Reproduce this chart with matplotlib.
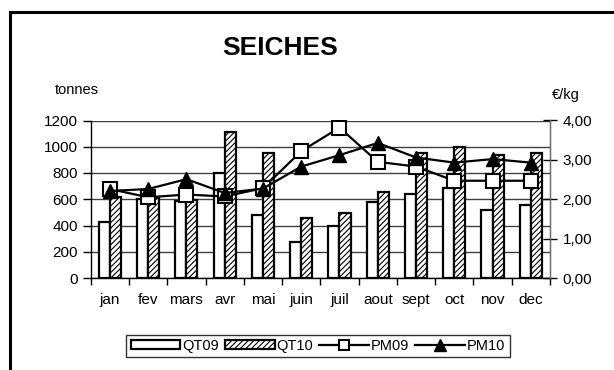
import matplotlib
matplotlib.use("Agg")
import matplotlib.pyplot as plt
from matplotlib.lines import Line2D
from matplotlib.patches import Patch
import numpy as np

plt.rcParams['font.family'] = ['Liberation Sans', 'DejaVu Sans']
plt.rcParams['hatch.color'] = '#333333'
plt.rcParams['hatch.linewidth'] = 0.8

months = ['jan', 'fev', 'mars', 'avr', 'mai', 'juin', 'juil', 'aout', 'sept', 'oct', 'nov', 'dec']
qt09 = [425, 602, 584, 803, 483, 274, 400, 576, 639, 685, 521, 559]
qt10 = [614, 612, 596, 1112, 949, 458, 496, 659, 949, 999, 936, 954]
pm09 = [2.26, 2.05, 2.12, 2.07, 2.28, 3.22, 3.82, 2.95, 2.83, 2.47, 2.47, 2.47]
pm10 = [2.21, 2.26, 2.51, 2.16, 2.27, 2.83, 3.12, 3.43, 3.06, 2.93, 3.02, 2.93]
left_ticks = [0, 200, 400, 600, 800, 1000, 1200]
right_ticks = [0, 1, 2, 3, 4]

fig = plt.figure(figsize=(6.14, 3.70), dpi=100)
ax = fig.add_axes([90.7/614, 1-278/370, (550-90.7)/614, (278-120.5)/370])
ax2 = ax.twinx()

x = np.arange(len(months))
w = 0.29
ax.set_axisbelow(True)
ax.yaxis.grid(True, color='#404040', linewidth=1)
ax.bar(x - w/2, qt09, w, facecolor='white', edgecolor='black', linewidth=1.6, zorder=2)
ax.bar(x + w/2, qt10, w, facecolor='white', edgecolor='black', linewidth=1.6, hatch='//////', zorder=2)

ax.set_xlim(-0.5, 11.5)
ax.set_ylim(0, 1200)
ax.set_yticks(left_ticks)
ax.set_xticks(x)
ax.set_xticklabels(months)
ax.set_xticks(np.arange(-0.5, 12, 1), minor=True)
ax.tick_params(axis='x', which='major', length=0, labelsize=11, pad=11)
ax.tick_params(axis='x', which='minor', length=5, width=1, direction='out')
ax.tick_params(axis='y', length=6, width=1, direction='out', labelsize=11, pad=3)
ax.spines['top'].set_visible(False)
ax.spines['left'].set_linewidth(1)
ax.spines['bottom'].set_linewidth(1)

ax2.plot(x, pm09, color='black', linewidth=1.6, marker='s', markersize=9.5,
         markerfacecolor='white', markeredgecolor='black', markeredgewidth=1.5, zorder=5)
ax2.plot(x, pm10, color='black', linewidth=1.6, marker='^', markersize=9.5,
         markerfacecolor='black', markeredgecolor='black', zorder=5)
ax2.set_ylim(0, 4)
ax2.set_yticks(right_ticks)
ax2.set_yticklabels([f"{v:.2f}".replace('.', ',') for v in right_ticks])
ax2.tick_params(axis='y', length=10, width=1, direction='inout', labelsize=11, pad=4)
ax2.spines['top'].set_visible(False)
ax2.spines['left'].set_visible(False)
ax2.spines['bottom'].set_visible(False)
ax2.spines['right'].set_color('#707070')
ax2.spines['right'].set_linewidth(1)

fig.text(280/614, 1-48/370, 'SEICHES', fontsize=19, fontweight='bold', ha='center', va='center')
fig.text(55/614, 1-90/370, 'tonnes', fontsize=10.5, ha='left', va='center')
fig.text(552/614, 1-95/370, '€/kg', fontsize=10.5, ha='left', va='center')

# outer frame (cropped)
fig.add_artist(Line2D([10/614, 10/614], [0, 1-11.5/370], color='black', linewidth=2.2, transform=fig.transFigure))
fig.add_artist(Line2D([10/614, 1], [1-11.5/370, 1-11.5/370], color='black', linewidth=2.2, transform=fig.transFigure))

handles = [
    Patch(facecolor='white', edgecolor='black', linewidth=1.6),
    Patch(facecolor='white', edgecolor='black', linewidth=1.6, hatch='//////'),
    Line2D([], [], color='black', linewidth=1.6, marker='s', markersize=7, markerfacecolor='white', markeredgewidth=1.5),
    Line2D([], [], color='black', linewidth=1.6, marker='^', markersize=8, markerfacecolor='black'),
]
leg = fig.legend(handles, ['QT09', 'QT10', 'PM09', 'PM10'], loc='center', bbox_to_anchor=(318/614, 1-346/370),
                 ncol=4, frameon=True, fancybox=False, edgecolor='black', fontsize=10.5,
                 handlelength=3.4, handletextpad=0.15, columnspacing=0.4, borderpad=0.3, handleheight=0.6)
leg.get_frame().set_linewidth(1)

fig.savefig('out.png', dpi=100)
